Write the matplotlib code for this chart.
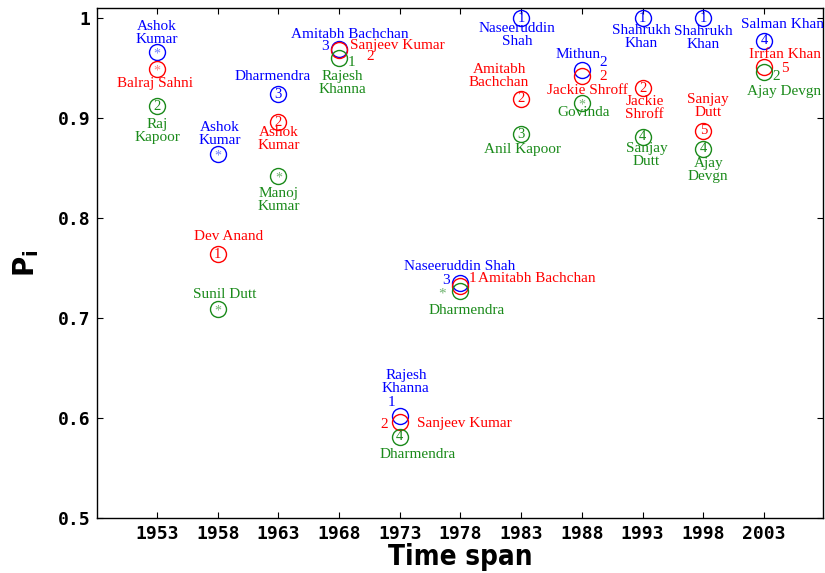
import matplotlib
matplotlib.use('Agg')
import matplotlib.pyplot as plt

# --- data ---
years = [1953, 1958, 1963, 1968, 1973, 1978, 1983, 1988, 1993, 1998, 2003]

blue_vals = [0.966, 0.864, 0.924, 0.969, 0.602, 0.735, 1.000, 0.948, 1.000, 1.000, 0.977]
red_vals = [0.949, 0.764, 0.896, 0.968, 0.596, 0.732, 0.919, 0.942, 0.930, 0.887, 0.951]
green_vals = [0.912, 0.709, 0.842, 0.960, 0.581, 0.727, 0.884, 0.915, 0.881, 0.869, 0.946]

blue_names = ['Ashok\nKumar', 'Ashok\nKumar', 'Dharmendra', 'Amitabh Bachchan', 'Rajesh\nKhanna',
              'Naseeruddin Shah', 'Naseeruddin\nShah', 'Mithun', 'Shahrukh\nKhan', 'Shahrukh\nKhan',
              'Salman Khan']
red_names = ['Balraj Sahni', 'Dev Anand', 'Ashok\nKumar', 'Sanjeev Kumar', 'Sanjeev Kumar',
             'Amitabh Bachchan', 'Amitabh\nBachchan', 'Jackie Shroff', 'Jackie\nShroff', 'Sanjay\nDutt',
             'Irrfan Khan']
green_names = ['Raj\nKapoor', 'Sunil Dutt', 'Manoj\nKumar', 'Rajesh\nKhanna', 'Dharmendra', 'Dharmendra',
               'Anil Kapoor', 'Govinda', 'Sanjay\nDutt', 'Ajay\nDevgn', 'Ajay Devgn']

blue_ranks = ['*', '*', '3', '3', '1', '3', '1', '2', '1', '1', '4']
red_ranks = ['*', '1', '2', '2', '2', '1', '2', '2', '2', '5', '5']
green_ranks = ['2', '*', '*', '1', '4', '*', '3', '*', '4', '4', '2']

ytick_vals = [0.5, 0.6, 0.7, 0.8, 0.9, 1.0]
ytick_labels = ['0.5', '0.6', '0.7', '0.8', '0.9', '1']

# --- layout: label offsets in pixels (dx right, dy down), ha ---
blue_label_pos = [(0, -19, 'center'), (2, -20, 'center'), (-6, -18, 'center'), (11, -15, 'center'),
                  (6, -34, 'center'), (-1, -17, 'center'), (-4, 17, 'center'), (-4, -15, 'center'),
                  (-1, 19, 'center'), (0, 20, 'center'), (19, -16, 'center')]
red_label_pos = [(-2, 15, 'center'), (11, -17, 'center'), (0, 17, 'center'), (11, -5, 'left'),
                 (17, 1, 'left'), (18, -7, 'left'), (-22, -23, 'center'), (6, 15, 'center'),
                 (2, 20, 'center'), (5, -25, 'center'), (21, -12, 'center')]
green_label_pos = [(0, 25, 'center'), (7, -14, 'center'), (0, 24, 'center'), (3, 25, 'center'),
                   (18, 18, 'center'), (6, 19, 'center'), (1, 15, 'center'), (2, 10, 'center'),
                   (4, 18, 'center'), (5, 21, 'center'), (20, 19, 'center')]
# rank offsets: None means drawn inside the circle
blue_rank_pos = [None, None, None, (-14, -2), (-8, -13), (-14, -3), None, (21, -7), None, None, None]
red_rank_pos = [None, None, None, (31, 7), (-16, 2), (12, -7), None, (21, 0), None, None, (21, 2)]
green_rank_pos = [None, None, None, (12, 5), None, (-18, 3), None, None, None, None, (12, 4)]

BLUE = '#0000ff'
RED = '#ff0000'
GREEN = '#1a8a1a'
LIGHT = {BLUE: '#6f7fff', RED: '#ff7f7f', GREEN: '#6fb36f'}

fig = plt.figure(figsize=(8.25, 5.73), dpi=100)
ax = fig.add_axes([97 / 825, 55 / 573, 726 / 825, 510 / 573])

serif = 'Liberation Serif'

series = [
    (blue_vals, blue_names, blue_ranks, blue_label_pos, blue_rank_pos, BLUE),
    (red_vals, red_names, red_ranks, red_label_pos, red_rank_pos, RED),
    (green_vals, green_names, green_ranks, green_label_pos, green_rank_pos, GREEN),
]

for vals, names, ranks, lpos, rpos, col in series:
    ax.plot(years, vals, linestyle='none', marker='o', markersize=11.5,
            markerfacecolor='none', markeredgecolor=col, markeredgewidth=1.0, clip_on=False)
    for x, y, name, rank, lp, rp in zip(years, vals, names, ranks, lpos, rpos):
        dx, dy, ha = lp
        ax.annotate(name, (x, y), xytext=(dx, -dy), textcoords='offset pixels',
                    ha=ha, va='center', color=col, fontsize=11, family=serif,
                    linespacing=0.95, annotation_clip=False)
        if rp is None:
            if rank == '*':
                ax.annotate(rank, (x, y), xytext=(0, -2), textcoords='offset pixels',
                            ha='center', va='center', color=LIGHT[col], fontsize=10,
                            family=serif, annotation_clip=False)
            else:
                ax.annotate(rank, (x, y), xytext=(0, 0), textcoords='offset pixels',
                            ha='center', va='center', color=col, fontsize=10.5,
                            family=serif, annotation_clip=False)
        else:
            rc = LIGHT[col] if rank == '*' else col
            ax.annotate(rank, (x, y), xytext=(rp[0], -rp[1]), textcoords='offset pixels',
                        ha='center', va='center', color=rc, fontsize=11,
                        family=serif, annotation_clip=False)

ax.set_xlim(1948.06, 2007.86)
ax.set_ylim(0.5, 1.01)
ax.set_xticks(years)
ax.set_xticklabels([str(y) for y in years], fontsize=13, fontweight='bold', family='DejaVu Sans Mono')
ax.set_yticks(ytick_vals)
ax.set_yticklabels(ytick_labels, fontsize=13, fontweight='bold', family='DejaVu Sans Mono')
ax.tick_params(direction='in', top=True, right=True, length=4, width=0.8)
ax.tick_params(axis='x', pad=5)
ax.tick_params(axis='y', pad=5)
for sp in ax.spines.values():
    sp.set_linewidth(1.0)

ax.set_xlabel('Time span', fontsize=20, fontweight='bold', family='DejaVu Sans',
              fontstretch='condensed', labelpad=0)
ax.set_ylabel(r'$\mathbf{P_i}$', fontsize=20, labelpad=12)

fig.savefig('out.png', dpi=100)
